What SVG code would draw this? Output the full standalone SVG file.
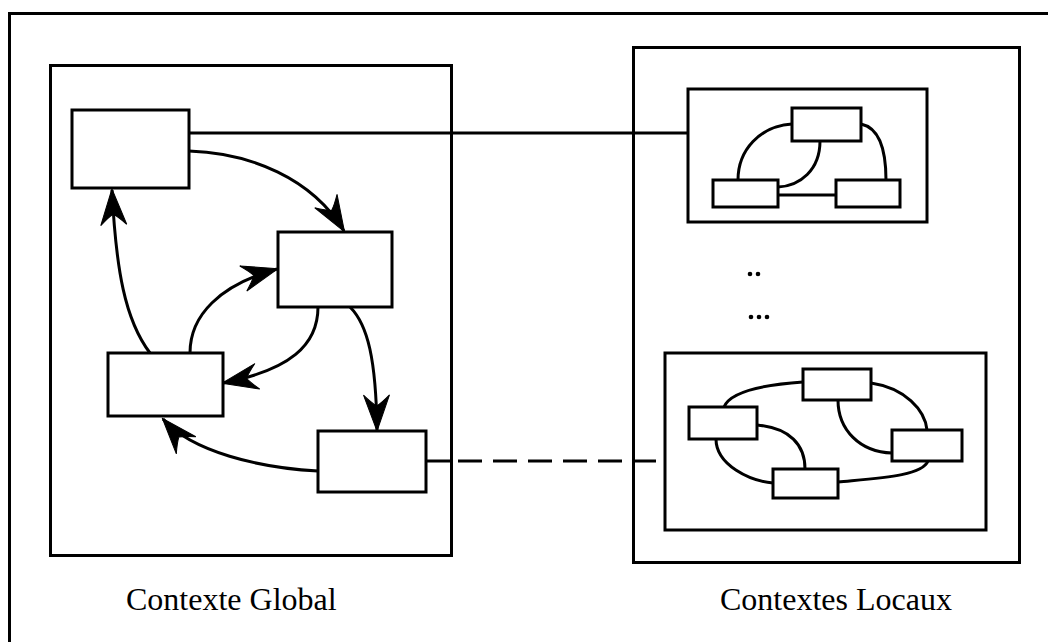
<svg xmlns="http://www.w3.org/2000/svg" width="1048" height="642" viewBox="0 0 1048 642">
  <style>
    .box { fill: #fff; stroke: #000; stroke-width: 3; }
    .frame { fill: none; stroke: #000; stroke-width: 3; }
    .edge { fill: none; stroke: #000; stroke-width: 3; }
    .dash { fill: none; stroke: #000; stroke-width: 3; stroke-dasharray: 24 11; }
    .label { font-family: "Liberation Serif", "Times New Roman", serif; font-size: 32px; fill: #000; }
    .dot { fill: #000; }
  </style>
  <defs>
    <marker id="barb" viewBox="-38 -16 40 32" markerWidth="40" markerHeight="32" refX="0" refY="0" orient="auto" markerUnits="userSpaceOnUse">
      <path d="M1,0 L-35,-13 Q-27,-5 -24,0 Q-27,5 -35,13 Z" fill="#000" stroke="#000" stroke-width="1" stroke-linejoin="miter"/>
    </marker>
  </defs>

  <rect width="1048" height="642" fill="#fff"/>

  <!-- outer frame (right and bottom edges fall outside the page) -->
  <rect class="frame" x="9.5" y="13.5" width="1100" height="700"/>

  <!-- container panels -->
  <g id="global-context">
    <rect class="frame" x="50.5" y="65.5" width="401" height="490"/>
  </g>
  <g id="local-contexts">
    <rect class="frame" x="633.5" y="47.5" width="386" height="515"/>
  </g>

  <!-- connectors -->
  <g id="connectors">
    <!-- links from the global graph to the local graphs -->
    <path class="edge" d="M189,133 L688,133"/>
    <path class="edge" d="M426,461 L453,461"/>
    <path class="dash" d="M458,461 L624,461"/>
    <path class="edge" d="M633,461 L656,461"/>

    <!-- global graph arcs -->
    <path class="edge" d="M189,151 C250,153 312,178 344,231" marker-end="url(#barb)"/>
    <path class="edge" d="M150,353 C125,320 116,270 112,190" marker-end="url(#barb)"/>
    <path class="edge" d="M190,353 C190,315 220,285 277,269" marker-end="url(#barb)"/>
    <path class="edge" d="M318,307 C318,345 290,370 223,383" marker-end="url(#barb)"/>
    <path class="edge" d="M350,307 C368,325 376,360 377,430" marker-end="url(#barb)"/>
    <path class="edge" d="M318,471 C260,468 192,452 163,419" marker-end="url(#barb)"/>

    <!-- first local graph -->
    <path class="edge" d="M792,124 C760,126 738,150 738,180"/>
    <path class="edge" d="M820,141 C820,170 800,186 778,187"/>
    <path class="edge" d="M778,195 L836,195"/>
    <path class="edge" d="M861,124 C880,128 886,150 886,180"/>

    <!-- second local graph -->
    <path class="edge" d="M803,382 C760,385 730,392 724,407"/>
    <path class="edge" d="M838,400 C838,430 860,452 892,453"/>
    <path class="edge" d="M871,383 C905,388 925,410 927,430"/>
    <path class="edge" d="M757,425 C790,428 805,445 805,469"/>
    <path class="edge" d="M716,439 C716,465 750,481 773,483"/>
    <path class="edge" d="M838,482 C880,478 922,476 928,461"/>
  </g>

  <!-- global graph nodes -->
  <g id="node-g1"><rect class="box" x="72" y="110" width="117" height="78"/></g>
  <g id="node-g2"><rect class="box" x="278" y="232" width="114" height="75"/></g>
  <g id="node-g3"><rect class="box" x="108" y="353" width="115" height="63"/></g>
  <g id="node-g4"><rect class="box" x="318" y="431" width="108" height="61"/></g>

  <!-- first local graph -->
  <g id="local-1">
    <rect class="frame" x="688" y="89" width="239" height="133"/>
  </g>
  <g id="node-l1a"><rect class="box" x="792" y="108" width="69" height="33"/></g>
  <g id="node-l1b"><rect class="box" x="713" y="180" width="65" height="27"/></g>
  <g id="node-l1c"><rect class="box" x="836" y="180" width="64" height="27"/></g>

  <!-- ellipsis between local graphs -->
  <g id="ellipsis">
    <circle class="dot" cx="750" cy="274" r="2.3"/>
    <circle class="dot" cx="758" cy="274" r="2.3"/>
    <circle class="dot" cx="751" cy="317" r="2.3"/>
    <circle class="dot" cx="759" cy="317" r="2.3"/>
    <circle class="dot" cx="767" cy="317" r="2.3"/>
  </g>

  <!-- second local graph -->
  <g id="local-2">
    <rect class="frame" x="665" y="353" width="321" height="177"/>
  </g>
  <g id="node-l2a"><rect class="box" x="803" y="369" width="68" height="31"/></g>
  <g id="node-l2b"><rect class="box" x="689" y="407" width="68" height="32"/></g>
  <g id="node-l2c"><rect class="box" x="892" y="430" width="70" height="31"/></g>
  <g id="node-l2d"><rect class="box" x="773" y="469" width="65" height="29"/></g>

  <!-- captions -->
  <text class="label" x="126" y="610">Contexte Global</text>
  <text class="label" x="720" y="610">Contextes Locaux</text>
</svg>
